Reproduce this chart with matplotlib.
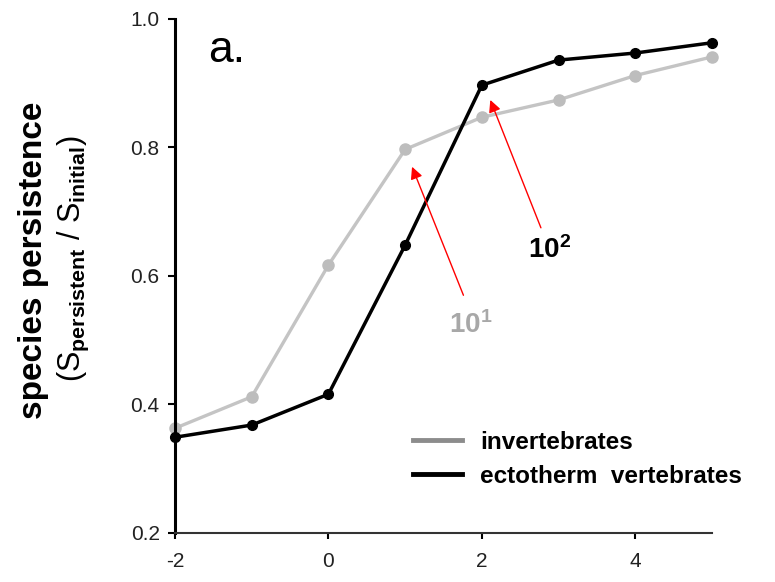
import numpy as np
import matplotlib
matplotlib.use("Agg")
import matplotlib.pyplot as plt

plt.rcParams['font.family'] = ['Liberation Sans', 'DejaVu Sans']
plt.rcParams['mathtext.fontset'] = 'custom'
plt.rcParams['mathtext.rm'] = 'Liberation Sans'
plt.rcParams['mathtext.it'] = 'Liberation Sans'
plt.rcParams['mathtext.bf'] = 'Liberation Sans:bold'
plt.rcParams['axes.unicode_minus'] = False

# data
x = [-2, -1, 0, 1, 2, 3, 4, 5]
invertebrates = [0.363, 0.412, 0.617, 0.797, 0.847, 0.874, 0.912, 0.941]
ectotherms = [0.349, 0.368, 0.416, 0.648, 0.897, 0.936, 0.947, 0.963]
xticks = [-2, 0, 2, 4]
yticks = [0.2, 0.4, 0.6, 0.8, 1.0]

fig = plt.figure(figsize=(7.75, 5.82), dpi=100)
ax = fig.add_axes([0.2258, 0.0842, 0.6929, 0.8832])

ax.plot(x, invertebrates, color='#c4c4c4', lw=2.4, marker='o', ms=8,
        mfc='#bdbdbd', mec='#bdbdbd', zorder=2, clip_on=False)
ax.plot(x, ectotherms, color='black', lw=2.5, marker='o', ms=7,
        zorder=3, clip_on=False)

ax.set_xlim(-2, 5)
ax.set_ylim(0.2, 1.0)
ax.set_xticks(xticks)
ax.set_yticks(yticks)
ax.set_yticklabels(['0.2', '0.4', '0.6', '0.8', '1.0'])
ax.tick_params(axis='y', length=5, width=1.5, pad=6, labelsize=15, labelcolor='#222222')
ax.tick_params(axis='x', length=4, width=1.5, pad=10, labelsize=15, labelcolor='#222222')
ax.spines['top'].set_visible(False)
ax.spines['right'].set_visible(False)
ax.spines['left'].set_linewidth(2.2)
ax.spines['bottom'].set_linewidth(1.5)
ax.spines['bottom'].set_color('#333333')

fig.text(227 / 775, 1 - 50 / 582, 'a.', fontsize=32, ha='center', va='center')

# arrows
ax.annotate('', xy=(1.09, 0.770), xytext=(1.76, 0.570),
            arrowprops=dict(arrowstyle='-|>', color='red', lw=1.0,
                            mutation_scale=18, shrinkA=0, shrinkB=0))
ax.annotate('', xy=(2.11, 0.874), xytext=(2.77, 0.675),
            arrowprops=dict(arrowstyle='-|>', color='red', lw=1.0,
                            mutation_scale=18, shrinkA=0, shrinkB=0))
ax.text(1.86, 0.524, r'10$^{\mathbf{1}}$', fontsize=20, fontweight='bold',
        color='#a8a8a8', ha='center', va='center')
ax.text(2.88, 0.640, r'10$^{\mathbf{2}}$', fontsize=20, fontweight='bold',
        color='black', ha='center', va='center')

# legend
ax.plot([], [], color='#8c8c8c', lw=3.5, label='invertebrates')
ax.plot([], [], color='black', lw=3.5, label='ectotherm  vertebrates')
handles, labels = ax.get_legend_handles_labels()
leg = ax.legend(handles[-2:], labels[-2:], loc='upper left',
                bbox_to_anchor=(413 / 775, 1 - 431 / 582),
                bbox_transform=fig.transFigure, frameon=False,
                borderpad=0, borderaxespad=0,
                prop={'weight': 'bold', 'size': 17.5}, handlelength=2.0,
                handletextpad=0.75, labelspacing=0.45)

fig.text(0.043, 0.553, 'species persistence', rotation=90, fontsize=24,
         fontweight='bold', ha='center', va='center')
fig.text(0.095, 0.556, r'(S$_{\mathbf{persistent}}$ / S$_{\mathbf{initial}}$)',
         rotation=90, fontsize=22, ha='center', va='center')

fig.savefig('out.png', dpi=100)
